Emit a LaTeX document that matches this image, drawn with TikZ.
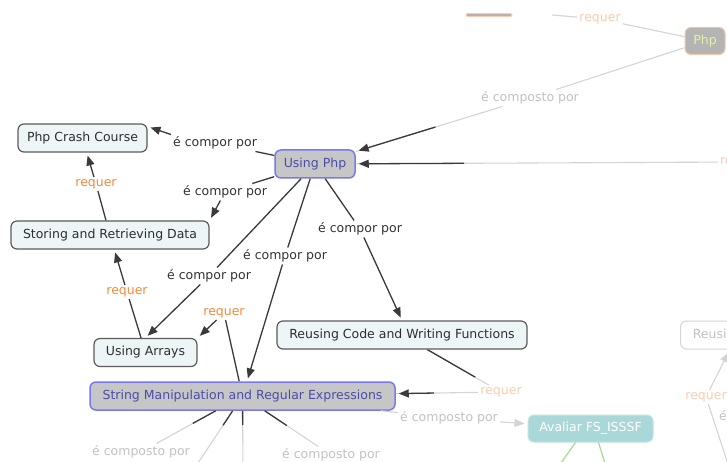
\documentclass[tikz,border=0pt]{standalone}
\usepackage{fontspec}
\setmainfont{DejaVu Sans}
\usetikzlibrary{arrows.meta,calc}

\definecolor{cfill}{HTML}{EEF5F7}
\definecolor{cborder}{HTML}{5C5C5C}
\definecolor{ctext}{HTML}{2E2E2E}
\definecolor{ffill}{HTML}{C6C6C6}
\definecolor{fborder}{HTML}{7A78F0}
\definecolor{ftext}{HTML}{4C4CA8}
\definecolor{ltext}{HTML}{333333}
\definecolor{ldark}{HTML}{3A3A3A}
\definecolor{rqorange}{HTML}{F28A3C}
\definecolor{fadegray}{HTML}{D4D4D4}
\definecolor{fadetext}{HTML}{C2C2C2}
\definecolor{fadeorange}{HTML}{F9CDB0}
\definecolor{stripfill}{HTML}{BDB0AC}
\definecolor{phpfill}{HTML}{B4B4B4}
\definecolor{phpborder}{HTML}{F0C8A8}
\definecolor{phptext}{HTML}{E6F0A4}
\definecolor{tealfill}{HTML}{AAD8D8}
\definecolor{tealborder}{HTML}{C2E4E4}
\definecolor{fadegreen}{HTML}{A6DC96}

\begin{document}
\begin{tikzpicture}[x=1pt,y=-1pt,
  font=\fontsize{12.5}{14}\selectfont,
  concept/.style={rectangle, rounded corners=6pt, draw=cborder, line width=1.2pt,
    fill=cfill, text=ctext, minimum height=28pt, inner xsep=4pt},
  focus/.style={concept, draw=fborder, fill=ffill, text=ftext, line width=1.5pt},
  faintconcept/.style={concept, draw=fadegray, fill=white, text=fadetext, line width=1pt},
  phpnode/.style={concept, draw=phpborder, fill=phpfill, text=phptext, line width=1pt},
  tealnode/.style={concept, draw=tealborder, fill=tealfill, text=white, line width=1pt},
  lbl/.style={inner sep=2pt, text=ltext},
  rq/.style={lbl, text=rqorange},
  faintlbl/.style={lbl, text=fadetext},
  faintrq/.style={lbl, text=fadeorange},
  link/.style={draw=ldark, line width=1.3pt},
  fline/.style={draw=fadegray, line width=1.1pt},
  arr/.style={-{Triangle[length=10pt,width=8pt]}, shorten >=3pt},
]
\clip (0,0) rectangle (727,462);
\fill[white] (0,0) rectangle (727,462);

% concepts
\node[concept, minimum width=129pt] (crash) at (82.5,138) {Php Crash Course};
\node[concept, minimum width=198pt] (store) at (110,235) {Storing and Retrieving Data};
\node[focus, minimum width=80pt] (using) at (315,164) {Using Php};
\node[concept, minimum width=103pt] (arrays) at (145.5,352.5) {Using Arrays};
\node[concept, minimum width=250pt] (reuse) at (402,335) {Reusing Code and Writing Functions};
\node[focus, minimum width=305pt] (strmanip) at (242.5,396) {String Manipulation and Regular Expressions};
\node[phpnode, minimum width=40pt, minimum height=27pt] (php) at (705,41) {Php};
\node[tealnode, minimum width=125pt, minimum height=27pt] (avaliar) at (590.5,428.5) {Avaliar FS\_ISSSF};
\node[faintconcept, anchor=west, minimum width=250pt] (reuse2) at (680,335) {Reusing Code and Writing Functions};
% bottom edge of a concept lying above the visible area
\node[rectangle, rounded corners=1.2pt, draw=fadeorange, fill=stripfill, line width=0.8pt,
  inner sep=0pt, minimum width=46pt, minimum height=3pt] (topbox) at (489,15) {};

% linking phrases
\node[lbl] (lcrash) at (215,143) {é compor por};
\node[lbl] (lstore) at (225,192) {é compor por};
\node[lbl] (larrays) at (209,276) {é compor por};
\node[lbl] (lstr) at (285,256) {é compor por};
\node[lbl] (lreuse) at (360,229) {é compor por};
\node[rq] (rstore) at (96,184) {requer};
\node[rq] (rarrays) at (127,292) {requer};
\node[rq] (rstr) at (224,313) {requer};
\node[faintlbl] (cphp) at (530,98) {é composto por};
\node[rq, text=fadeorange, anchor=west] (rright) at (718,162) {requer};
\node[faintrq] (rtop) at (600,19) {requer};
\node[faintrq] (rreuse) at (501,392) {requer};
\node[faintlbl] (caval) at (449,418) {é composto por};
\node[faintlbl] (cb1) at (141,452) {é composto por};
\node[faintlbl] (cb2) at (331,455) {é composto por};
\node[faintrq] (rright2) at (706,397) {requer};
\node[faintlbl, anchor=west] (eright) at (717,417) {é composto por};

% free ends
\coordinate (topend) at (552,15);
\coordinate (bend) at (190,475);
\coordinate (cend) at (243,475);
\coordinate (rrend) at (730,470);
\coordinate (greenA) at (556,470);
\coordinate (greenB) at (607,470);

% connectors around Using Php
\draw[link] (using) -- (lcrash);
\draw[link, arr] (lcrash.north west) -- (crash.10);
\draw[link] (using) -- (lstore);
\draw[link, arr] (lstore) -- (store.north east);
\draw[link] (using) -- (larrays);
\draw[link, arr] (larrays) -- (arrays.north);
\draw[link] (using) -- (lstr);
\draw[link, arr] (lstr) -- (strmanip);
\draw[link] (using) -- (lreuse);
\draw[link, arr] (lreuse) -- (reuse.north);

% requer connectors
\draw[link] (store) -- (rstore);
\draw[link, arr] (rstore) -- (crash);
\draw[link] (arrays) -- (rarrays);
\draw[link, arr] (rarrays) -- (store);
\draw[link] (strmanip) -- (rstr);
\draw[link, arr] (rstr) -- (arrays.north east);

% Php -> Using Php, fading toward the far end
\draw[fline] (php) -- (cphp);
\draw[fline] (cphp) -- (using);
\draw[link, arr] ($(cphp)!0.44!(using)$) -- (using);
\draw[fline] (rright) -- (using);
\draw[link, arr] ($(rright)!0.65!(using)$) -- (using);
\draw[fline] (php) -- (rtop);
\draw[fline] (rtop) -- (topend);

% Reusing Code -> String Manipulation
\draw[fline] (reuse) -- (rreuse);
\draw[link] (reuse) -- ($(reuse)!0.74!(rreuse)$);
\draw[fline] (rreuse) -- (strmanip);
\draw[link, arr] ($(rreuse)!0.26!(strmanip)$) -- (strmanip);

% String Manipulation -> composed parts
\draw[fline] (strmanip) -- (caval);
\draw[fline, arr] (caval) -- (avaliar);
\draw[fline] (strmanip) -- (cb1);
\draw[link] (strmanip) -- ($(strmanip)!0.49!(cb1)$);
\draw[fline] (strmanip) -- (cb2);
\draw[link] (strmanip) -- ($(strmanip)!0.5!(cb2)$);
\draw[fline] (strmanip) -- (bend);
\draw[link] (strmanip) -- ($(strmanip)!0.37!(bend)$);
\draw[fline] (strmanip) -- (cend);
\draw[link] (strmanip) -- ($(strmanip)!0.37!(cend)$);

% right-hand side
\draw[fline, arr] (rright2) -- ($(reuse2.south west)+(50,0)$);
\draw[fline] (rright2) -- (rrend);
\draw[draw=fadegreen, line width=1.2pt] (avaliar.south) ++(-15,0) coordinate (ga) -- (greenA);
\draw[draw=fadegreen, line width=1.2pt] (avaliar.south) ++(8,0) coordinate (gb) -- (greenB);
\end{tikzpicture}
\end{document}
